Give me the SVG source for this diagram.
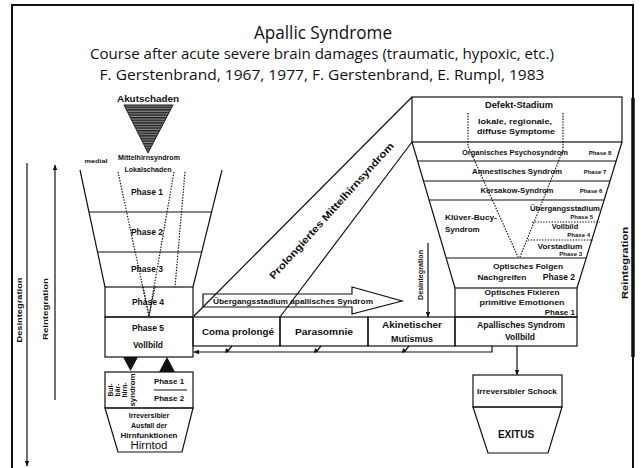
<svg xmlns="http://www.w3.org/2000/svg" width="641" height="468" viewBox="0 0 641 468">
<defs>
<style>
.t{font-family:"Open Sans","Liberation Sans",sans-serif;fill:#111;text-anchor:middle}
.b{font-family:"Liberation Sans",Arial,sans-serif;font-weight:bold;fill:#111;text-anchor:middle}
.r{font-family:"Liberation Sans",Arial,sans-serif;fill:#111;text-anchor:middle}
.ln{stroke:#111;stroke-width:1.2;fill:none}
.dot{stroke:#111;stroke-width:1.2;fill:none;stroke-dasharray:1.4 1.4}
.box{stroke:#111;stroke-width:1.2;fill:#fff}
</style>
<marker id="ah" viewBox="0 0 10 10" refX="9" refY="5" markerWidth="6" markerHeight="6" orient="auto-start-reverse" markerUnits="userSpaceOnUse">
<path d="M0,1 L10,5 L0,9 Z" fill="#111"/>
</marker>
<pattern id="hatch" width="6" height="2.6" patternUnits="userSpaceOnUse">
<rect width="6" height="2.6" fill="#888"/>
<rect width="6" height="1.4" fill="#222"/>
</pattern>
</defs>
<rect width="641" height="468" fill="#fff"/>

<!-- frame -->
<g id="frame">
<path d="M12,480 V5 H633 V480" fill="none" stroke="#111" stroke-width="2"/>
<line x1="633" y1="98" x2="633" y2="357" stroke="#111" stroke-width="3.5"/>
</g>

<!-- title -->
<g id="title">
<text class="t" x="323" y="39" font-size="19" textLength="138" lengthAdjust="spacingAndGlyphs">Apallic Syndrome</text>
<text class="t" x="322" y="59" font-size="15" textLength="464" lengthAdjust="spacingAndGlyphs">Course after acute severe brain damages (traumatic, hypoxic, etc.)</text>
<text class="t" x="322" y="80" font-size="15" textLength="445" lengthAdjust="spacingAndGlyphs">F. Gerstenbrand, 1967, 1977, F. Gerstenbrand, E. Rumpl, 1983</text>
</g>

<!-- connectors -->
<g id="connectors">
<line class="ln" x1="27" y1="163" x2="27" y2="466" marker-end="url(#ah)"/>
<line class="ln" x1="55" y1="400" x2="55" y2="165" marker-end="url(#ah)"/>
<line class="ln" x1="194" y1="316" x2="412" y2="97"/>
<line class="ln" x1="280" y1="317" x2="412" y2="142"/>
<line class="ln" x1="428" y1="243" x2="428" y2="317" marker-end="url(#ah)"/>
<path class="ln" d="M492,346 V352 H194" marker-end="url(#ah)"/>
<line class="ln" x1="517" y1="346" x2="517" y2="375" marker-end="url(#ah)"/>
<g fill="#111">
<path class="ln" d="M232,346 L227,352"/><path d="M225,353 L226,348 L229.5,351 Z"/>
<path class="ln" d="M321,346 L316,352"/><path d="M314,353 L315,348 L318.5,351 Z"/>
<path class="ln" d="M409,346 L404,352"/><path d="M402,353 L403,348 L406.5,351 Z"/>
</g>
<polygon points="203,294 352,294 352,287 402,301 352,314 352,307 203,307" fill="none" stroke="#111" stroke-width="1.2"/>
<text class="b" x="293" y="304" font-size="7.5" textLength="160" lengthAdjust="spacingAndGlyphs">Übergangsstadium apallisches Syndrom</text>
<text class="b" transform="translate(334,213) rotate(-47.9)" x="0" y="0" font-size="10" textLength="180" lengthAdjust="spacingAndGlyphs">Prolongiertes Mittelhirnsyndrom</text>
<text class="b" transform="translate(423,275) rotate(-90)" x="0" y="0" font-size="6.5" textLength="50" lengthAdjust="spacingAndGlyphs">Desintegration</text>
</g>

<!-- side labels -->
<g id="side-labels">
<text class="b" transform="translate(22,310) rotate(-90)" x="0" y="0" font-size="8" textLength="65" lengthAdjust="spacingAndGlyphs">Desintegration</text>
<text class="b" transform="translate(48,309) rotate(-90)" x="0" y="0" font-size="8" textLength="62" lengthAdjust="spacingAndGlyphs">Reintegration</text>
<text class="b" transform="translate(628,263) rotate(-90)" x="0" y="0" font-size="8.5" textLength="72" lengthAdjust="spacingAndGlyphs">Reintegration</text>
</g>

<!-- left funnel -->
<g id="akutschaden">
<text class="b" x="148" y="102" font-size="9" textLength="62" lengthAdjust="spacingAndGlyphs">Akutschaden</text>
<polygon points="124,105 173,105 148,153" fill="url(#hatch)" stroke="#222" stroke-width="1"/>
</g>
<g id="left-funnel">
<text class="b" x="96" y="163" font-size="6" textLength="23" lengthAdjust="spacingAndGlyphs">medial</text>
<text class="b" x="149" y="160" font-size="6.5" textLength="62" lengthAdjust="spacingAndGlyphs">Mittelhirnsyndrom</text>
<text class="b" x="148" y="172" font-size="7" textLength="47" lengthAdjust="spacingAndGlyphs">Lokalschaden</text>
<line class="ln" x1="80" y1="170" x2="105" y2="287"/>
<line class="ln" x1="222" y1="170" x2="193" y2="287"/>
<line class="ln" x1="89" y1="212" x2="212" y2="212"/>
<line class="ln" x1="98" y1="252" x2="202" y2="252"/>
<path class="dot" d="M118,172 L149,316"/>
<path class="dot" d="M174,172 L149,316"/>
<path class="dot" d="M185,172 L175,287"/>
<text class="b" x="147" y="195" font-size="8.5">Phase 1</text>
<text class="b" x="147" y="235" font-size="8.5">Phase 2</text>
<text class="b" x="147" y="272" font-size="8.5">Phase 3</text>
</g>
<g id="phase4">
<rect class="ln" x="105" y="287" width="88" height="30"/>
<path class="dot" d="M143,287 L149,316 M155,287 L149,316"/>
<text class="b" x="148" y="305" font-size="8.5">Phase 4</text>
</g>
<g id="phase5">
<rect class="ln" x="105" y="317" width="88" height="40"/>
<text class="b" x="148" y="331" font-size="8.5">Phase 5</text>
<text class="b" x="148" y="348" font-size="8.5">Vollbild</text>
<polygon points="123,357 138,357 130.5,371" fill="#111"/>
<polygon points="159,372 175,372 167,357" fill="#111"/>
</g>
<g id="bulbaer">
<rect class="ln" x="105" y="372" width="88" height="36"/>
<text class="b" transform="translate(113,390) rotate(-90)" font-size="6.8">Bul-</text>
<text class="b" transform="translate(120,390) rotate(-90)" font-size="6.8">bär-</text>
<text class="b" transform="translate(127,390) rotate(-90)" font-size="6.8">hirn-</text>
<text class="b" transform="translate(135,390) rotate(-90)" font-size="7" textLength="33" lengthAdjust="spacingAndGlyphs">syndrom</text>
<text class="b" x="169" y="384" font-size="8">Phase 1</text>
<line class="ln" x1="154" y1="390" x2="187" y2="390"/>
<text class="b" x="169" y="401" font-size="8">Phase 2</text>
</g>
<g id="hirntod">
<polygon class="ln" points="105,408 193,408 182,452 118,452"/>
<text class="b" x="149" y="418" font-size="7">Irreversibler</text>
<text class="b" x="149" y="428" font-size="7">Ausfall der</text>
<text class="b" x="149" y="438" font-size="7" textLength="57" lengthAdjust="spacingAndGlyphs">Hirnfunktionen</text>
<text class="r" x="149" y="449" font-size="10" textLength="37" lengthAdjust="spacingAndGlyphs">Hirntod</text>
</g>

<!-- middle row -->
<g id="coma">
<rect class="ln" x="193" y="317" width="87" height="29"/>
<text class="b" x="238" y="335" font-size="9" textLength="72" lengthAdjust="spacingAndGlyphs">Coma prolongé</text>
</g>
<g id="parasomnie">
<rect class="ln" x="280" y="317" width="88" height="29"/>
<text class="b" x="324" y="335" font-size="9" textLength="58" lengthAdjust="spacingAndGlyphs">Parasomnie</text>
</g>
<g id="mutismus">
<rect class="ln" x="368" y="317" width="87" height="29"/>
<text class="b" x="412" y="328" font-size="9" textLength="60" lengthAdjust="spacingAndGlyphs">Akinetischer</text>
<text class="b" x="412" y="342" font-size="9">Mutismus</text>
</g>
<g id="apallisch">
<rect class="ln" x="455" y="317" width="122" height="29"/>
<text class="b" x="521" y="328" font-size="8.5" textLength="88" lengthAdjust="spacingAndGlyphs">Apallisches Syndrom</text>
<text class="b" x="520" y="340" font-size="8.5">Vollbild</text>
</g>
<g id="phase1-right">
<rect class="ln" x="455" y="288" width="122" height="29"/>
<text class="b" x="522" y="295" font-size="7.5" textLength="75" lengthAdjust="spacingAndGlyphs">Optisches Fixieren</text>
<text class="b" x="522" y="305" font-size="7.5" textLength="85" lengthAdjust="spacingAndGlyphs">primitive Emotionen</text>
<text class="b" x="575" y="315" font-size="8" style="text-anchor:end">Phase 1</text>
</g>

<!-- right funnel -->
<g id="defekt">
<rect class="ln" x="412" y="97" width="210" height="45"/>
<text class="b" x="519" y="108" font-size="8.5" textLength="68" lengthAdjust="spacingAndGlyphs">Defekt-Stadium</text>
<text class="b" x="515" y="124" font-size="8" textLength="74" lengthAdjust="spacingAndGlyphs">lokale, regionale,</text>
<text class="b" x="516" y="134" font-size="8" textLength="78" lengthAdjust="spacingAndGlyphs">diffuse Symptome</text>
</g>
<g id="right-funnel">
<line class="ln" x1="412" y1="142" x2="455" y2="288"/>
<line class="ln" x1="622" y1="142" x2="577" y2="288"/>
<line class="ln" x1="417.6" y1="161" x2="616.1" y2="161"/>
<line class="ln" x1="423.5" y1="181" x2="610" y2="181"/>
<line class="ln" x1="429.1" y1="200" x2="604.1" y2="200"/>
<line class="ln" x1="446.2" y1="258" x2="586.2" y2="258"/>
<path class="dot" d="M468,113 L468,146 L518,257"/>
<path class="dot" d="M563,113 L563,150 L520,257"/>
<path class="dot" d="M532,222 L600,222"/>
<path class="dot" d="M528,240 L593,240"/>
<text class="b" x="515" y="155" font-size="7.5" textLength="106" lengthAdjust="spacingAndGlyphs">Organisches Psychosyndrom</text>
<text class="b" x="600" y="155" font-size="6">Phase 8</text>
<text class="b" x="517" y="174" font-size="8" textLength="90" lengthAdjust="spacingAndGlyphs">Amnestisches Syndrom</text>
<text class="b" x="595" y="174" font-size="6">Phase 7</text>
<text class="b" x="517" y="193" font-size="8" textLength="73" lengthAdjust="spacingAndGlyphs">Korsakow-Syndrom</text>
<text class="b" x="591" y="193" font-size="6">Phase 6</text>
<text class="b" x="445" y="220" font-size="8" style="text-anchor:start" textLength="52" lengthAdjust="spacingAndGlyphs">Klüver-Bucy-</text>
<text class="b" x="445" y="232" font-size="8" style="text-anchor:start">Syndrom</text>
<text class="b" x="565" y="211" font-size="8" textLength="70" lengthAdjust="spacingAndGlyphs">Übergangsstadium</text>
<text class="b" x="593" y="219" font-size="6" style="text-anchor:end">Phase 5</text>
<text class="b" x="565" y="229" font-size="7.5">Vollbild</text>
<text class="b" x="590" y="237" font-size="6" style="text-anchor:end">Phase 4</text>
<text class="b" x="560" y="249" font-size="7.5" textLength="45" lengthAdjust="spacingAndGlyphs">Vorstadium</text>
<text class="b" x="582" y="256" font-size="6" style="text-anchor:end">Phase 3</text>
<text class="b" x="528" y="269" font-size="8" textLength="70" lengthAdjust="spacingAndGlyphs">Optisches Folgen</text>
<text class="b" x="502" y="280" font-size="8" textLength="49" lengthAdjust="spacingAndGlyphs">Nachgreifen</text>
<text class="b" x="575" y="280" font-size="8.5" style="text-anchor:end">Phase 2</text>
</g>
<g id="schock">
<rect class="ln" x="473" y="375" width="89" height="32"/>
<text class="b" x="517" y="394" font-size="8" textLength="80" lengthAdjust="spacingAndGlyphs">Irreversibler Schock</text>
</g>
<g id="exitus">
<polygon class="ln" points="473,407 562,407 548,453 488,453"/>
<text class="b" x="516" y="438" font-size="10">EXITUS</text>
</g>
</svg>
